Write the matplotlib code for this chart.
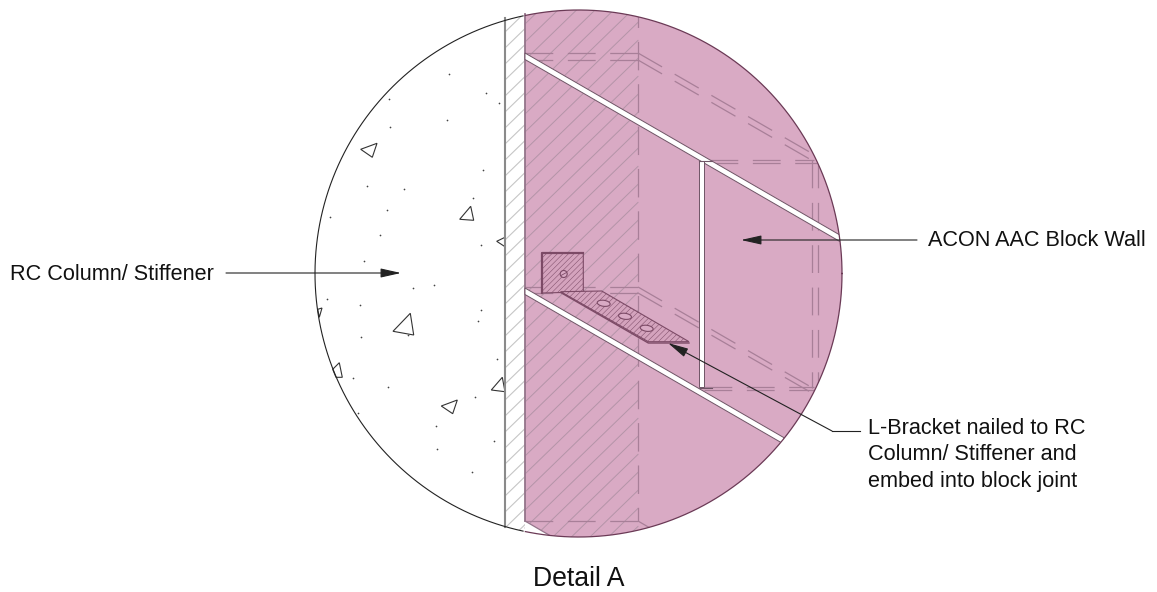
import numpy as np
import matplotlib
matplotlib.use('Agg')
import matplotlib.pyplot as plt
from matplotlib.patches import Circle, Polygon, Ellipse, Rectangle

plt.rcParams['font.family'] = ['Liberation Sans', 'DejaVu Sans']
plt.rcParams['lines.scale_dashes'] = False
plt.rcParams['hatch.linewidth'] = 0.35

# drawing values in pixels
circle_center = (578.5, 273.5)
circle_radius = 263.5

aggregates = [
    [(360.7, 149.3), (377, 143.3), (372.3, 157.3)],
    [(459.7, 219.3), (470.7, 206.3), (473.7, 220.3)],
    [(505, 237.3), (496.7, 241.3), (505, 246.7)],
    [(393, 331.3), (410.3, 313.3), (413.7, 335)],
    [(317.7, 309.3), (322, 308), (319.3, 317.3)],
    [(332.7, 369.3), (339.3, 362.7), (342.3, 377.3), (336, 377.3)],
    [(491.3, 390), (502.3, 377.3), (505, 391.7)],
    [(441.3, 406), (457.3, 400), (452.7, 413.7)],
]
dots_x = [449, 486, 499, 389, 390, 447, 483, 367, 404, 473, 387, 330, 380, 481, 364, 434,
          413, 327, 360, 481, 478, 361, 408, 497, 353, 388, 475, 358, 436, 494, 437, 472]
dots_y = [74, 93, 103, 99, 127, 120, 170, 186, 189, 198, 210, 217, 235, 245, 261, 285,
          288, 299, 305, 310, 321, 337, 335, 359, 378, 387, 397, 413, 426, 441, 449, 472]

wall_left = 505
wall_face = 525
pink_edge = 638
joint_slope = 0.578
hatch_slope = 0.97

# hidden lines as (x0, y0, x1, y1)
hidden_h = [(525, 53, 638, 53), (525, 60, 638, 60), (525, 287, 638, 287), (525, 293, 638, 293),
            (525, 521, 638, 521), (710, 160, 814, 160), (710, 163, 817, 163),
            (704, 387, 814, 387), (704, 390, 817, 390)]
hidden_diag = [(638, 53, 813, 154), (638, 60, 813, 161), (638, 287, 812, 387.6),
               (638, 293, 812, 393), (638, 521, 650, 528)]
hidden_v = [(812.3, 160, 812.3, 388), (817.5, 160, 817.5, 390)]

bracket_upright = [(541.7, 253), (583.3, 253), (583.3, 292), (541.7, 293)]
bracket_flat = [(560.7, 291.7), (601.7, 291), (689, 341.7), (648.3, 341.7)]
bracket_holes_x = [603.7, 625, 646.7]
bracket_holes_y = [303.3, 316.3, 328.3]

PINK = '#d9aac4'
LINE = '#a87f98'
DARK = '#7c4a66'
TEXT = '#111111'

fig = plt.figure(figsize=(11.57, 5.92), dpi=100)
ax = fig.add_axes([0, 0, 1, 1])
ax.set_xlim(0, 1157)
ax.set_ylim(592, 0)
ax.axis('off')

clip = Circle(circle_center, circle_radius, transform=ax.transData, fc='none', ec='none')
ax.add_patch(clip)

# block wall
pink = Polygon([(wall_face, 0), (850, 0), (850, 560), (549, 560), (549, 535), (wall_face, 521)],
               fc=PINK, ec='none', zorder=1)
ax.add_patch(pink)
pink.set_clip_path(clip)

# diagonal hatch, grey on the plaster strip
for c in np.arange(0, 560, 16.0):
    s = ax.plot([wall_left, wall_face], [c, c - hatch_slope * (wall_face - wall_left)],
                color='#c6c6c6', lw=0.8, zorder=2)[0]
    s.set_clip_path(clip)
# and mauve on the wall, wider spacing
for c in np.arange(6, 660, 18.0):
    l = ax.plot([wall_face, pink_edge], [c, c - hatch_slope * (pink_edge - wall_face)],
                color='#b494a8', lw=0.7, zorder=2)[0]
    l.set_clip_path(clip)
ax.plot([wall_left, wall_left], [18, 527], color='#8a8a8a', lw=1.5, zorder=4)
ax.plot([wall_face, wall_face], [14, 521], color='#94748a', lw=1.3, zorder=4)
ax.add_patch(Polygon([(wall_face, 521), (549, 535), (wall_face, 535)], fc='white', ec='none', zorder=2.5))
ax.plot([wall_face, 549], [521, 535], color='#94748a', lw=0.9, zorder=4)

# hidden lines
for x0, y0, x1, y1 in hidden_h + hidden_diag + hidden_v:
    ln = ax.plot([x0, x1], [y0, y1], color=LINE, lw=0.9, linestyle=(0, (20, 10.5)), zorder=3)[0]
    ln.set_clip_path(clip)
edge = ax.plot([pink_edge, pink_edge], [-12, 521], color=LINE, lw=0.9, linestyle=(0, (20.5, 10)), zorder=3)[0]
edge.set_clip_path(clip)

# mortar joints
for top in [53, 288]:
    x_end = 840 if top == 53 else 784
    joint = Polygon([(wall_face, top), (x_end, top + joint_slope * (x_end - wall_face)),
                     (x_end, top + 6.5 + joint_slope * (x_end - wall_face)), (wall_face, top + 6.5)],
                    fc='white', ec='#6f5566', lw=0.7, zorder=5)
    ax.add_patch(joint)
    joint.set_clip_path(clip)
ax.add_patch(Rectangle((699, 161), 4.5, 226, fc='white', ec='#6f5566', lw=0.7, zorder=5))
ax.plot([699, 712], [160.5, 160.5], color='#6f5566', lw=0.8, zorder=6)
ax.plot([699, 712], [387.5, 387.5], color='#6f5566', lw=0.8, zorder=4)

# concrete aggregate
for tri in aggregates:
    p = Polygon(tri, closed=True, fc='none', ec='#333333', lw=0.8, zorder=3)
    ax.add_patch(p)
ax.scatter(dots_x, dots_y, s=1.5, color='#444444', linewidths=0, zorder=3)

# circle outline, black on concrete side, maroon on wall side
theta = np.linspace(0, 2 * np.pi, 720)
cx = circle_center[0] + circle_radius * np.cos(theta)
cy = circle_center[1] + circle_radius * np.sin(theta)
left = cx <= wall_face
right = cx >= wall_face
ax.plot(np.where(left, cx, np.nan), cy, color='#222222', lw=0.8, zorder=6)
ax.plot(np.where(right, cx, np.nan), cy, color='#6b3a56', lw=0.9, zorder=6)

# L bracket
ax.add_patch(Polygon(bracket_upright, fc='#d4a3bd', ec=DARK, lw=0.8, hatch='//////', zorder=7))
ax.plot([541.7, 541.7, 583.3], [293, 253, 253], color=DARK, lw=1.6, zorder=8)
ax.add_patch(Ellipse((563.7, 274), 7, 7, fc=PINK, ec=DARK, lw=0.8, zorder=8))
ax.plot([561, 566.5], [275.5, 272.5], color=DARK, lw=0.6, zorder=9)
ax.add_patch(Polygon(bracket_flat, fc='#d4a3bd', ec=DARK, lw=0.8, hatch='//////', zorder=7))
ax.plot([560.7, 648.3, 689], [292.5, 343, 343], color=DARK, lw=1.0, zorder=8)
for hx, hy in zip(bracket_holes_x, bracket_holes_y):
    ax.add_patch(Ellipse((hx, hy), 13, 6, angle=8, fc=PINK, ec=DARK, lw=0.8, zorder=8))

# leaders
arrow = dict(arrowstyle='-|>,head_length=1.25,head_width=0.28', color='#222222', lw=0.8, shrinkA=0, shrinkB=0)
ax.annotate('', xy=(401, 273), xytext=(226, 273), arrowprops=arrow, zorder=10)
ax.annotate('', xy=(741, 240), xytext=(917, 240), arrowprops=arrow, zorder=10)
ax.annotate('', xy=(668, 343), xytext=(832, 431), arrowprops=arrow, zorder=10)
ax.plot([832, 860], [431, 431], color='#222222', lw=0.8, zorder=10)

# labels
ax.text(10, 274, 'RC Column/ Stiffener', fontsize=15.6, va='center', ha='left', color=TEXT)
ax.text(928, 240, 'ACON AAC Block Wall', fontsize=15.6, va='center', ha='left', color=TEXT)
ax.text(868, 428, 'L-Bracket nailed to RC', fontsize=15.6, va='center', ha='left', color=TEXT)
ax.text(868, 455, 'Column/ Stiffener and', fontsize=15.6, va='center', ha='left', color=TEXT)
ax.text(868, 482, 'embed into block joint', fontsize=15.6, va='center', ha='left', color=TEXT)
ax.text(579, 579, 'Detail A', fontsize=19.2, va='center', ha='center', color=TEXT)

fig.savefig('out.png', dpi=100)
